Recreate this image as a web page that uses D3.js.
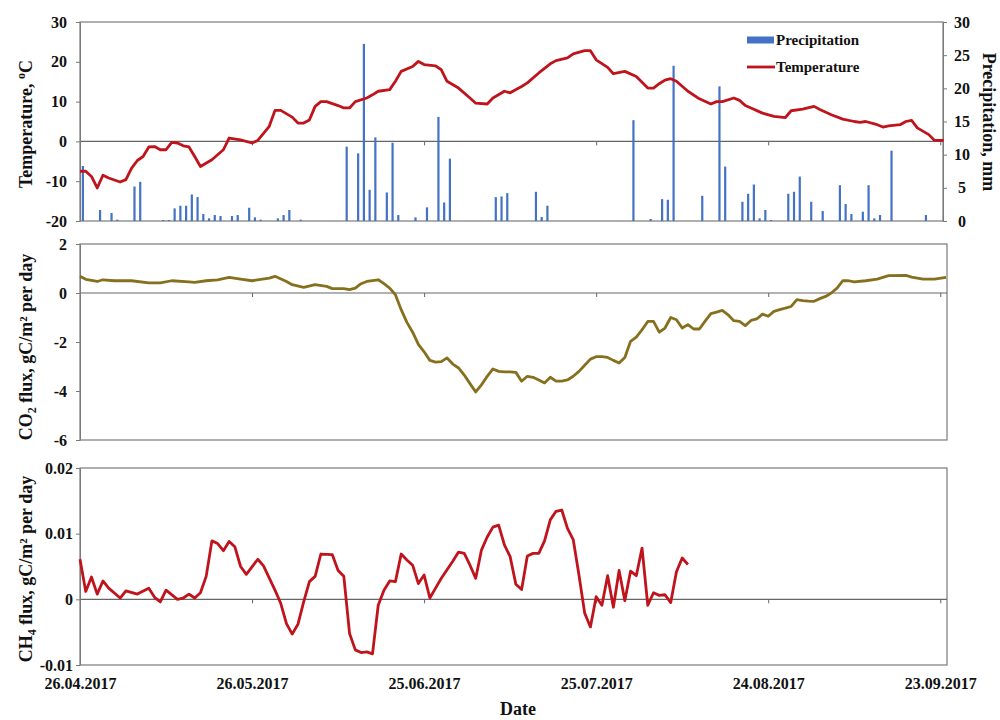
<!DOCTYPE html>
<html>
<head>
<meta charset="utf-8">
<script src="https://cdn.jsdelivr.net/npm/d3@7"></script>
<style>
  body { margin: 0; background: #fff; }
  svg { display: block; }
</style>
</head>
<body>
<svg id="chart" width="1000" height="720"></svg>
<script>
// day offsets are counted from 26.04.2017
var startDate = new Date(Date.UTC(2017, 3, 26));
var dateTicks = [0, 30, 60, 90, 120, 150];

var tempTicks = [-20, -10, 0, 10, 20, 30];
var precipTicks = [0, 5, 10, 15, 20, 25, 30];
var co2Ticks = [-6, -4, -2, 0, 2];
var ch4Ticks = [-0.01, 0, 0.01, 0.02];

// [day, °C]
var tempData = [
  [0, -7.5], [1, -7.5], [2, -8.8], [3, -11.7], [4, -8.5], [5, -9.2], [7, -10.2], [8, -9.6],
  [9, -6.7], [10, -4.8], [11, -3.8], [12, -1.4], [13, -1.3], [14, -2.1], [15, -2.1], [16, -0.25],
  [17, -0.4], [18, -1.1], [19, -1.4], [20, -3.8], [21, -6.3], [23, -4.6], [25, -2.1], [26, 0.85],
  [28, 0.4], [30, -0.4], [31, 0.25], [33, 3.8], [34, 7.8], [35, 7.8], [37, 6.1], [38, 4.6],
  [39, 4.6], [40, 5.4], [41, 8.8], [42, 10], [43, 10], [45, 9], [46, 8.4], [47, 8.4],
  [48, 10], [50, 10.9], [51, 11.7], [52, 12.6], [54, 13], [55, 15.1], [56, 17.6], [58, 18.8],
  [59, 20.1], [60, 19.3], [62, 19], [63, 18], [64, 15.1], [66, 13.4], [68, 10.9], [69, 9.6],
  [71, 9.4], [72, 10.9], [74, 12.6], [75, 12.2], [77, 13.8], [78, 14.7], [80, 17.2], [82, 19.5],
  [83, 20.3], [85, 21], [86, 22], [88, 22.8], [89, 22.8], [90, 20.5], [92, 18.6], [93, 17],
  [95, 17.6], [97, 16.3], [99, 13.4], [100, 13.4], [101, 14.5], [102, 15.4], [103, 15.75], [104, 15.1],
  [106, 12.6], [108, 10.7], [110, 9.4], [111, 10], [112, 10], [114, 10.9], [115, 10.3], [116, 9],
  [117, 8.4], [119, 7.1], [121, 6.3], [123, 6], [124, 7.7], [126, 8.1], [128, 8.8], [129, 8],
  [131, 6.7], [133, 5.6], [135, 5], [136, 4.8], [137, 5], [139, 4.2], [140, 3.6], [141, 3.9],
  [143, 4.2], [144, 5], [145, 5.3], [146, 3.4], [148, 1.7], [149, 0.25], [150.6, 0.25]
];

// [day, mm]
var precipData = [
  [0, 8.3], [3, 1.66], [5, 1.2], [6, 0.2], [9, 5.2], [10, 5.9], [14, 0.15], [15, 0.15],
  [16, 1.9], [17, 2.3], [18, 2.3], [19, 4.0], [20, 3.6], [21, 1.05], [22, 0.4], [23, 0.9],
  [24, 0.75], [26, 0.75], [27, 0.9], [29, 2.0], [30, 0.55], [31, 0.2], [34, 0.4], [35, 0.9],
  [36, 1.66], [38, 0.2], [46, 11.2], [48, 10.2], [49, 26.7], [50, 4.7], [51, 12.6], [53, 4.3],
  [54, 11.8], [55, 0.9], [58, 0.55], [60, 2.06], [62, 15.7], [63, 2.8], [64, 9.4], [72, 3.6],
  [73, 3.7], [74, 4.2], [79, 4.4], [80, 0.6], [81, 2.3], [96, 15.2], [99, 0.3], [101, 3.3],
  [102, 3.2], [103, 23.4], [108, 3.8], [111, 20.3], [112, 8.2], [115, 2.9], [116, 4.1], [117, 5.5],
  [118, 0.4], [119, 1.66], [120, 0.15], [123, 4.1], [124, 4.4], [125, 6.7], [127, 2.9], [129, 1.5],
  [132, 5.4], [133, 2.56], [134, 1.05], [136, 1.4], [137, 5.4], [138, 0.4], [139, 0.9], [141, 10.6],
  [147, 0.9]
];

// [day, gC/m2 per day]
var co2Data = [
  [0, 0.68], [1, 0.56], [3, 0.47], [4, 0.54], [6, 0.5], [9, 0.5], [12, 0.41], [14, 0.41],
  [16, 0.5], [19, 0.45], [20, 0.43], [22, 0.5], [24, 0.54], [26, 0.64], [28, 0.57], [30, 0.5],
  [33, 0.61], [34, 0.68], [36, 0.47], [37, 0.34], [39, 0.23], [41, 0.34], [43, 0.27], [44, 0.18],
  [46, 0.18], [47, 0.14], [48, 0.2], [49, 0.38], [50, 0.47], [52, 0.54], [53, 0.38], [54, 0.2],
  [55, -0.07], [56, -0.68], [57, -1.2], [58, -1.6], [59, -2.1], [60, -2.4], [61, -2.75], [62, -2.82],
  [63, -2.8], [64, -2.65], [65, -2.9], [66, -3.06], [67, -3.35], [68, -3.7], [69, -4.04], [70, -3.75],
  [71, -3.4], [72, -3.1], [73, -3.2], [74, -3.22], [75, -3.22], [76, -3.24], [77, -3.6], [78, -3.4],
  [79, -3.44], [80, -3.55], [81, -3.67], [82, -3.44], [83, -3.6], [84, -3.6], [85, -3.55], [86, -3.4],
  [87, -3.2], [88, -2.95], [89, -2.7], [90, -2.6], [91, -2.6], [92, -2.63], [93, -2.75], [94, -2.86],
  [95, -2.63], [96, -1.97], [97, -1.8], [98, -1.5], [99, -1.16], [100, -1.16], [101, -1.6], [102, -1.43],
  [103, -1.0], [104, -1.09], [105, -1.43], [106, -1.29], [107, -1.47], [108, -1.47], [109, -1.15], [110, -0.84],
  [111, -0.78], [112, -0.71], [113, -0.89], [114, -1.13], [115, -1.16], [116, -1.33], [117, -1.12], [118, -1.06],
  [119, -0.86], [120, -0.95], [121, -0.75], [122, -0.68], [123, -0.62], [124, -0.55], [125, -0.27], [126, -0.31],
  [127, -0.33], [128, -0.34], [129, -0.23], [130, -0.14], [131, 0.0], [132, 0.2], [133, 0.5], [134, 0.5],
  [135, 0.45], [137, 0.5], [139, 0.57], [141, 0.71], [144, 0.72], [145, 0.65], [147, 0.57], [149, 0.57],
  [151, 0.64]
];

// [day, gC/m2 per day]
var ch4Data = [
  [0, 0.0061], [1, 0.0012], [2, 0.0034], [3, 0.0008], [4, 0.0028], [5, 0.0017], [7, 0.0002], [8, 0.0013],
  [10, 0.0008], [12, 0.0017], [13, 0.0003], [14, -0.0004], [15, 0.0014], [17, 0.0], [18, 0.0002], [19, 0.0008],
  [20, 0.0002], [21, 0.001], [22, 0.0035], [23, 0.0089], [24, 0.0085], [25, 0.0074], [26, 0.0088], [27, 0.008],
  [28, 0.005], [29, 0.0038], [31, 0.0061], [32, 0.0051], [34, 0.0014], [35, -0.0006], [36, -0.0037], [37, -0.0053],
  [38, -0.0038], [39, -0.0004], [40, 0.0027], [41, 0.0035], [42, 0.0069], [44, 0.0068], [45, 0.0044], [46, 0.0035],
  [47, -0.0052], [48, -0.0077], [49, -0.0081], [50, -0.008], [51, -0.0083], [52, -0.0009], [53, 0.0014], [54, 0.0028],
  [55, 0.0027], [56, 0.0069], [57, 0.006], [58, 0.0052], [59, 0.0024], [60, 0.0037], [61, 0.0002], [62, 0.0017],
  [63, 0.0032], [64, 0.0045], [65, 0.0058], [66, 0.0072], [67, 0.007], [68, 0.0052], [69, 0.0032], [70, 0.0075],
  [71, 0.0095], [72, 0.011], [73, 0.0113], [74, 0.0083], [75, 0.0065], [76, 0.0023], [77, 0.0015], [78, 0.0066],
  [79, 0.007], [80, 0.007], [81, 0.0089], [82, 0.0121], [83, 0.0134], [84, 0.0136], [85, 0.0108], [86, 0.0091],
  [87, 0.0037], [88, -0.0021], [89, -0.0042], [90, 0.0004], [91, -0.0009], [92, 0.0036], [93, -0.0012], [94, 0.0044],
  [95, -0.0002], [96, 0.0043], [97, 0.0036], [98, 0.0078], [99, -0.0009], [100, 0.001], [101, 0.0006], [102, 0.0007],
  [103, -0.0005], [104, 0.0042], [105, 0.0063], [106, 0.0053]
];

var FONT = '"Liberation Serif", "Times New Roman", serif';
var AXIS_GREY = '#7a7a7a';
var BLUE = '#4472c4';
var RED = '#c0141c';
var OLIVE = '#86701e';

var svg = d3.select('#chart');

function toDate(d) {
  return new Date(startDate.getTime() + d * 864e5);
}

var x = d3.scaleUtc()
  .domain([startDate, toDate(151)])
  .range([80, 946]);

var panels = {
  temp: { top: 22, bottom: 221, right: 943 },
  co2: { top: 244, bottom: 440, right: 947 },
  ch4: { top: 468, bottom: 665, right: 947 }
};

var yTemp = d3.scaleLinear().domain([-20, 30]).range([panels.temp.bottom, panels.temp.top]);
var yPrec = d3.scaleLinear().domain([0, 30]).range([panels.temp.bottom, panels.temp.top]);
var yCo2 = d3.scaleLinear().domain([-6, 2]).range([panels.co2.bottom, panels.co2.top]);
var yCh4 = d3.scaleLinear().domain([-0.01, 0.02]).range([panels.ch4.bottom, panels.ch4.top]);

function styleAxis(g) {
  g.attr('font-family', null).attr('font-size', null);
  g.selectAll('text')
    .attr('font-family', FONT)
    .attr('font-size', 16)
    .attr('font-weight', 'bold')
    .attr('fill', '#111');
  g.selectAll('line').attr('stroke', AXIS_GREY);
  g.select('.domain').attr('stroke', AXIS_GREY);
}

function panelFrame(p, yScale) {
  svg.append('rect')
    .attr('x', 80)
    .attr('y', p.top)
    .attr('width', p.right - 80)
    .attr('height', p.bottom - p.top)
    .attr('fill', 'none')
    .attr('stroke', AXIS_GREY)
    .attr('stroke-width', 1.2);

  // zero line with the date ticks hanging from it
  svg.append('line')
    .attr('x1', 80).attr('x2', p.right)
    .attr('y1', yScale(0)).attr('y2', yScale(0))
    .attr('stroke', '#666')
    .attr('stroke-width', 1.2);

  var gx = svg.append('g')
    .attr('transform', 'translate(0,' + yScale(0) + ')')
    .call(d3.axisBottom(x).tickValues(dateTicks.map(toDate)).tickSize(4).tickFormat(''));
  gx.select('.domain').remove();
  gx.selectAll('line').attr('stroke', '#666');
}

function leftAxis(yScale, ticks, pad) {
  var g = svg.append('g')
    .attr('transform', 'translate(80,0)')
    .call(d3.axisLeft(yScale).tickValues(ticks).tickSize(4).tickSizeOuter(0).tickPadding(pad).tickFormat(String));
  styleAxis(g);
  return g;
}

// ---- top panel: temperature + precipitation
panelFrame(panels.temp, yTemp);
leftAxis(yTemp, tempTicks, 9);

var gr = svg.append('g')
  .attr('transform', 'translate(' + panels.temp.right + ',0)')
  .call(d3.axisRight(yPrec).tickValues(precipTicks).tickSize(4).tickSizeOuter(0).tickPadding(8).tickFormat(String));
styleAxis(gr);
gr.selectAll('text').attr('text-anchor', 'middle').attr('x', 19);

var barW = 2.2;
svg.append('g')
  .selectAll('rect')
  .data(precipData)
  .join('rect')
  .attr('x', function(d) { return x(toDate(d[0] + 0.5)) - barW / 2; })
  .attr('y', function(d) { return yPrec(d[1]); })
  .attr('width', barW)
  .attr('height', function(d) { return yPrec(0) - yPrec(d[1]); })
  .attr('fill', BLUE);

var tempLine = d3.line()
  .x(function(d) { return x(toDate(d[0])); })
  .y(function(d) { return yTemp(d[1]); });

svg.append('path')
  .datum(tempData)
  .attr('d', tempLine)
  .attr('fill', 'none')
  .attr('stroke', RED)
  .attr('stroke-width', 2.8)
  .attr('stroke-linejoin', 'round');

// legend
var lg = svg.append('g').attr('font-family', FONT).attr('font-weight', 'bold').attr('font-size', 15).attr('fill', '#111');
lg.append('rect').attr('x', 747).attr('y', 36.5).attr('width', 27).attr('height', 7).attr('fill', BLUE);
lg.append('text').attr('x', 776).attr('y', 45).text('Precipitation');
lg.append('line').attr('x1', 747).attr('x2', 775).attr('y1', 67).attr('y2', 67)
  .attr('stroke', RED).attr('stroke-width', 2.8);
lg.append('text').attr('x', 776).attr('y', 72).text('Temperature');

// ---- middle panel: CO2
panelFrame(panels.co2, yCo2);
leftAxis(yCo2, co2Ticks, 9);

var co2Line = d3.line()
  .x(function(d) { return x(toDate(d[0])); })
  .y(function(d) { return yCo2(d[1]); });

svg.append('path')
  .datum(co2Data)
  .attr('d', co2Line)
  .attr('fill', 'none')
  .attr('stroke', OLIVE)
  .attr('stroke-width', 2.8)
  .attr('stroke-linejoin', 'round');

// ---- bottom panel: CH4
panelFrame(panels.ch4, yCh4);
leftAxis(yCh4, ch4Ticks, 3);

var ch4Line = d3.line()
  .x(function(d) { return x(toDate(d[0])); })
  .y(function(d) { return yCh4(d[1]); });

svg.append('path')
  .datum(ch4Data)
  .attr('d', ch4Line)
  .attr('fill', 'none')
  .attr('stroke', RED)
  .attr('stroke-width', 2.8)
  .attr('stroke-linejoin', 'round');

// date labels under the last panel
var gDates = svg.append('g')
  .attr('transform', 'translate(0,' + panels.ch4.bottom + ')')
  .call(d3.axisBottom(x).tickValues(dateTicks.map(toDate)).tickSize(0).tickPadding(13)
    .tickFormat(d3.utcFormat('%d.%m.%Y')));
gDates.select('.domain').remove();
styleAxis(gDates);

// ---- axis titles
var titles = svg.append('g')
  .attr('font-family', FONT)
  .attr('font-weight', 'bold')
  .attr('font-size', 18)
  .attr('fill', '#111')
  .attr('text-anchor', 'middle');

var tT = titles.append('text').attr('transform', 'translate(32,124) rotate(-90)');
tT.append('tspan').text('Temperature, ');
tT.append('tspan').attr('font-size', 12).attr('dy', -7).text('o');
tT.append('tspan').attr('dy', 7).text('C');

titles.append('text')
  .attr('transform', 'translate(983,122) rotate(90)')
  .text('Precipitation,  mm');

var tC = titles.append('text').attr('transform', 'translate(32,347) rotate(-90)');
tC.append('tspan').text('CO');
tC.append('tspan').attr('font-size', 12).attr('dy', 4).text('2');
tC.append('tspan').attr('dy', -4).text(' flux, gC/m² per day');

var tM = titles.append('text').attr('transform', 'translate(32,569) rotate(-90)');
tM.append('tspan').text('CH');
tM.append('tspan').attr('font-size', 12).attr('dy', 4).text('4');
tM.append('tspan').attr('dy', -4).text(' flux, gC/m² per day');

titles.append('text').attr('x', 518).attr('y', 715).text('Date');
</script>
</body>
</html>
